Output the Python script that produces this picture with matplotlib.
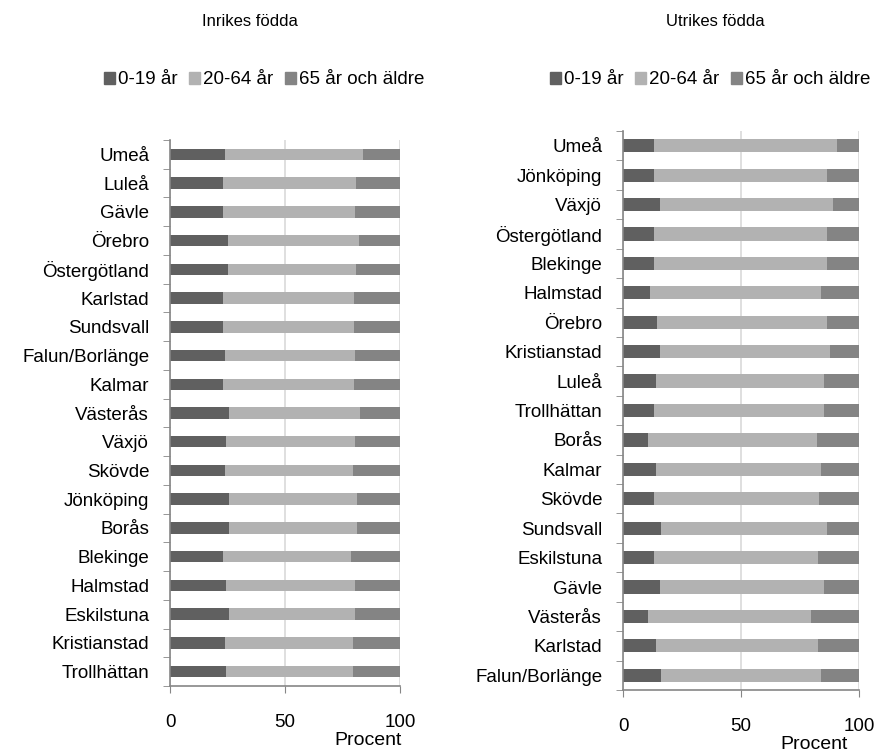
import numpy as np
import matplotlib
matplotlib.use("Agg")
import matplotlib.pyplot as plt
from matplotlib.patches import Patch
from matplotlib.ticker import FixedLocator

plt.rcParams['font.family'] = ['Liberation Sans', 'DejaVu Sans']

# Inrikes födda
inr_regions = ['Umeå', 'Luleå', 'Gävle', 'Örebro', 'Östergötland', 'Karlstad',
               'Sundsvall', 'Falun/Borlänge', 'Kalmar', 'Västerås', 'Växjö',
               'Skövde', 'Jönköping', 'Borås', 'Blekinge', 'Halmstad',
               'Eskilstuna', 'Kristianstad', 'Trollhättan']
inr_young = [24, 23, 23, 25, 25, 23, 23, 24, 23, 25.5, 24.5, 24, 25.5, 25.5, 23, 24.5, 25.5, 24, 24.5]
inr_mid = [60, 58, 57.5, 57, 56, 57, 57, 56.5, 57, 57, 56, 55.5, 56, 56, 55.5, 56, 55, 55.5, 55]
inr_old = [16, 19, 19.5, 18, 19, 20, 20, 19.5, 20, 17.5, 19.5, 20.5, 18.5, 18.5, 21.5, 19.5, 19.5, 20.5, 20.5]

# Utrikes födda
utr_regions = ['Umeå', 'Jönköping', 'Växjö', 'Östergötland', 'Blekinge', 'Halmstad',
               'Örebro', 'Kristianstad', 'Luleå', 'Trollhättan', 'Borås', 'Kalmar',
               'Skövde', 'Sundsvall', 'Eskilstuna', 'Gävle', 'Västerås', 'Karlstad',
               'Falun/Borlänge']
utr_young = [13, 13, 15.5, 13, 13, 11.5, 14.5, 15.5, 14, 13, 10.5, 14, 13, 16, 13, 15.5, 10.5, 14, 16]
utr_mid = [77.5, 73.5, 73.5, 73.5, 73.5, 72.5, 72, 72, 71, 72, 71.5, 70, 70, 70.5, 69.5, 69.5, 69, 68.5, 68]
utr_old = [9.5, 13.5, 11, 13.5, 13.5, 16, 13.5, 12.5, 15, 15, 18, 16, 17, 13.5, 17.5, 15, 20.5, 17.5, 16]

labels = ['0-19 år', '20-64 år', '65 år och äldre']
colors = ['#606060', '#b2b2b2', '#848484']
spine_col = '#868686'
fs = 13.5

fig = plt.figure(figsize=(8.8, 7.54), dpi=100)


def draw(ax, regions, young, mid, old, height):
    n = len(regions)
    y = np.arange(n)
    young = np.array(young)
    mid = np.array(mid)
    old = np.array(old)
    ax.barh(y, young, height=height, color=colors[0])
    ax.barh(y, mid, left=young, height=height, color=colors[1])
    ax.barh(y, old, left=young + mid, height=height, color=colors[2])
    ax.set_xlim(0, 100)
    ax.set_ylim(n - 0.5, -0.5)
    ax.set_yticks(y)
    ax.set_yticklabels(regions, fontsize=fs)
    ax.yaxis.set_minor_locator(FixedLocator(np.arange(n + 1) - 0.5))
    ax.tick_params(axis='y', which='major', length=0, pad=15)
    ax.tick_params(axis='y', which='minor', length=5, color=spine_col, direction='out')
    ax.set_xticks([0, 50, 100])
    ax.tick_params(axis='x', length=5, color=spine_col, direction='out', pad=15, labelsize=fs)
    ax.xaxis.grid(True, color='#d9d9d9', linewidth=1.2)
    ax.set_axisbelow(True)
    for s in ['top', 'right']:
        ax.spines[s].set_visible(False)
    for s in ['left', 'bottom']:
        ax.spines[s].set_color(spine_col)
        ax.spines[s].set_linewidth(1.2)
    ax.set_xlabel('Procent', fontsize=14)


ax1 = fig.add_axes([170 / 880, 1 - 686 / 754, 230 / 880, (686 - 140) / 754])
draw(ax1, inr_regions, inr_young, inr_mid, inr_old, 0.4)
ax1.xaxis.set_label_coords(0.86, -0.085)
ax2 = fig.add_axes([623 / 880, 1 - 690 / 754, 236 / 880, (690 - 131) / 754])
draw(ax2, utr_regions, utr_young, utr_mid, utr_old, 0.45)
ax2.xaxis.set_label_coords(0.81, -0.083)

handles = [Patch(color=c, label=l) for c, l in zip(colors, labels)]
fig.text(250 / 880, 1 - 22 / 754, 'Inrikes födda', ha='center', va='center', fontsize=12)
fig.text(715 / 880, 1 - 22 / 754, 'Utrikes födda', ha='center', va='center', fontsize=12)
for xc in [264 / 880, 710 / 880]:
    fig.legend(handles=handles, loc='center', bbox_to_anchor=(xc, 1 - 80 / 754), ncol=3,
               frameon=False, fontsize=fs, handlelength=0.6, handleheight=0.6,
               handletextpad=0.15, columnspacing=0.6)

fig.savefig('out.png', dpi=100)
